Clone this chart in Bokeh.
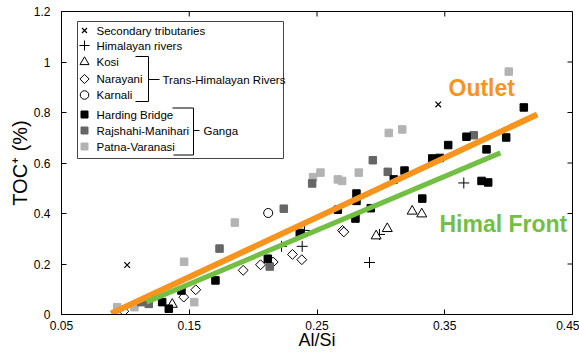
import numpy as np
from bokeh.plotting import figure
from bokeh.models import Range1d, FixedTicker, CustomJSTickFormatter, Label, Title
from bokeh.core.properties import value
from bokeh.embed import file_html
from bokeh.resources import INLINE

# ---------------- data ----------------
sec_x = [0.1014, 0.3449]
sec_y = [0.196, 0.832]

him_x = [0.2222, 0.2384, 0.2402, 0.2911, 0.2989, 0.3649]
him_y = [0.270, 0.270, 0.333, 0.206, 0.317, 0.521]

kosi_x = [0.1367, 0.2963, 0.3050, 0.3245, 0.3320]
kosi_y = [0.040, 0.311, 0.340, 0.409, 0.398]

nar_x = [0.0988, 0.1457, 0.1551, 0.1922, 0.2058, 0.2157, 0.2308, 0.2381, 0.2700, 0.2710]
nar_y = [0.013, 0.069, 0.098, 0.175, 0.197, 0.208, 0.238, 0.217, 0.333, 0.327]

kar_x = [0.2118]
kar_y = [0.402]

hb_x = [0.1288, 0.1340, 0.1439, 0.1705, 0.2115, 0.2365, 0.2663, 0.2809, 0.2809, 0.2801,
        0.2921, 0.3101, 0.3185, 0.3324, 0.3402, 0.3461, 0.3527, 0.3670, 0.3788, 0.3840,
        0.3827, 0.3981, 0.4119]
hb_y = [0.049, 0.023, 0.095, 0.135, 0.221, 0.323, 0.415, 0.479, 0.450, 0.380,
        0.421, 0.535, 0.570, 0.459, 0.618, 0.620, 0.671, 0.704, 0.529, 0.523,
        0.654, 0.701, 0.820]

rm_x = [0.1124, 0.1183, 0.1737, 0.2130, 0.2240, 0.2462, 0.2937, 0.3054, 0.3727]
rm_y = [0.049, 0.042, 0.261, 0.190, 0.419, 0.519, 0.611, 0.565, 0.710]

pv_x = [0.0936, 0.1071, 0.1460, 0.1539, 0.1857, 0.2469, 0.2527, 0.2663, 0.2697, 0.2827,
        0.3062, 0.3167, 0.4001]
pv_y = [0.029, 0.029, 0.209, 0.049, 0.364, 0.544, 0.562, 0.535, 0.529, 0.562,
        0.719, 0.733, 0.962]

outlet_x = [0.0889, 0.4224]
outlet_y = [0.004, 0.792]
himal_x = [0.1165, 0.3936]
himal_y = [0.049, 0.640]

legend_labels = ["Secondary tributaries", "Himalayan rivers", "Kosi", "Narayani", "Karnali",
                 "Harding Bridge", "Rajshahi-Manihari", "Patna-Varanasi"]
group_labels = ["Trans-Himalayan Rivers", "Ganga"]
line_labels = ["Outlet", "Himal Front"]
x_label = "Al/Si"
y_label = "TOC\u207a (%)"

x_ticks = [0.05, 0.15, 0.25, 0.35, 0.45]
x_tick_labels = ["0.05", "0.15", "0.25", "0.35", "0.45"]
y_ticks = [0, 0.2, 0.4, 0.6, 0.8, 1.0, 1.2]
y_tick_labels = ["0", "0.2", "0.4", "0.6", "0.8", "1", "1.2"]

# ---------------- styles ----------------
FONT = "Liberation Sans"
ORANGE = "#F7941D"
GREEN = "#72BF44"
BLACK = "#000000"
DARK = "#666666"
LIGHT = "#B3B3B3"

W, H = 579, 359
FL, FR, FT, FB = 61, 572, 11, 314   # frame edges in canvas pixels


def fmt(ticks, labels):
    return CustomJSTickFormatter(args=dict(t=ticks, l=labels), code="""
for (let i = 0; i < t.length; i++) { if (Math.abs(t[i] - tick) < 1e-9) return l[i]; }
return "";
""")


p = figure(width=W, height=H, x_range=Range1d(0.05, 0.45), y_range=Range1d(0, 1.2),
           output_backend="svg", toolbar_location=None,
           min_border_left=FL, min_border_right=W - FR, min_border_top=FT, min_border_bottom=H - FB)
p.xgrid.visible = False
p.ygrid.visible = False
p.outline_line_color = "black"
p.outline_line_alpha = 1
p.outline_line_width = 1
p.background_fill_color = "white"
p.border_fill_color = "white"

# pixel-space ranges for annotations (legend, labels)
p.extra_x_ranges = {"px": Range1d(FL, FR)}
p.extra_y_ranges = {"px": Range1d(FB, FT)}

for ax, ticks, labels in ((p.xaxis[0], x_ticks, x_tick_labels), (p.yaxis[0], y_ticks, y_tick_labels)):
    ax.ticker = FixedTicker(ticks=ticks)
    ax.formatter = fmt(ticks, labels)
    ax.major_tick_in = 5
    ax.major_tick_out = 0
    ax.minor_tick_in = 0
    ax.minor_tick_out = 0
    ax.axis_line_color = "black"
    ax.major_tick_line_color = "black"
    ax.major_label_text_font = FONT
    ax.major_label_text_font_size = "12px"
    ax.major_label_text_color = "black"
    ax.axis_label_text_font = FONT
    ax.axis_label_text_font_style = "normal"
    ax.axis_label_text_color = "black"

p.xaxis[0].axis_label = x_label
p.xaxis[0].axis_label_text_font_size = "18px"
p.xaxis[0].major_label_standoff = 6
p.xaxis[0].axis_label_standoff = -3
p.yaxis[0].major_label_standoff = 11

# y axis title (shifted slightly upwards, as in the reference)
p.add_layout(Title(text=y_label, align="center", offset=15, standoff=0, text_font=FONT,
                   text_font_size="20px", text_font_style="normal", text_color="black"), "left")

# ticks on the top and right frame edges (inward)
p.segment(x0=x_ticks, x1=x_ticks, y0=[FT] * len(x_ticks), y1=[FT + 5] * len(x_ticks),
          y_range_name="px", line_color="black", line_width=1)
p.segment(x0=[FR] * len(y_ticks), x1=[FR - 5] * len(y_ticks), y0=y_ticks, y1=y_ticks,
          x_range_name="px", line_color="black", line_width=1)

# ---------------- data marks ----------------
p.scatter(sec_x, sec_y, marker="x", size=8, line_color=BLACK, line_width=1.2)
p.scatter(him_x, him_y, marker="cross", size=11, line_color=BLACK, line_width=1)
p.scatter(kosi_x, kosi_y, marker="triangle", size=10, fill_color="white", line_color=BLACK, line_width=1)
p.scatter(nar_x, nar_y, marker="square", angle=np.pi / 4, size=7, fill_color="white", line_color=BLACK, line_width=1)
p.scatter(kar_x, kar_y, marker="circle", size=9, fill_color="white", line_color=BLACK, line_width=1)
p.scatter(pv_x, pv_y, marker="square", size=7.5, fill_color=LIGHT, line_color=LIGHT)
p.scatter(rm_x, rm_y, marker="square", size=7.5, fill_color=DARK, line_color=DARK)
p.scatter(hb_x, hb_y, marker="square", size=7.5, fill_color=BLACK, line_color=BLACK)

p.line(outlet_x, outlet_y, line_color=ORANGE, line_width=6)
p.line(himal_x, himal_y, line_color=GREEN, line_width=5)

# ---------------- legend (pixel space) ----------------
PX = dict(x_range_name="px", y_range_name="px")
p.quad(left=[77], right=[283], top=[21], bottom=[158], fill_color="white",
       line_color="#444444", line_width=1, **PX)

rows = [30, 45, 61.5, 78.5, 94.5, 114, 130, 146]
lx = [84] * len(rows)
p.scatter(lx[0:1], rows[0:1], marker="x", size=7, line_color=BLACK, line_width=1.2, **PX)
p.scatter(lx[1:2], rows[1:2], marker="cross", size=10, line_color=BLACK, **PX)
p.scatter(lx[2:3], rows[2:3], marker="triangle", size=9, fill_color="white", line_color=BLACK, **PX)
p.scatter(lx[3:4], rows[3:4], marker="square", angle=np.pi / 4, size=6.5, fill_color="white", line_color=BLACK, **PX)
p.scatter(lx[4:5], rows[4:5], marker="circle", size=8.5, fill_color="white", line_color=BLACK, **PX)
p.scatter(lx[5:6], rows[5:6], marker="square", size=7, fill_color=BLACK, line_color=BLACK, **PX)
p.scatter(lx[6:7], rows[6:7], marker="square", size=7, fill_color=DARK, line_color=DARK, **PX)
p.scatter(lx[7:8], rows[7:8], marker="square", size=7, fill_color=LIGHT, line_color=LIGHT, **PX)

for yy, txt in zip(rows, legend_labels):
    p.add_layout(Label(x=96, y=yy, text=txt, text_font=FONT, text_font_size="11.5px",
                       text_baseline="middle", text_align="left", text_color="black", **PX))

p.multi_line(xs=[[135, 148, 148, 135], [148, 159], [172, 193, 193, 173], [193, 199]],
             ys=[[56, 56, 101, 101], [79, 79], [107.5, 107.5, 154.5, 154.5], [130, 130]],
             line_color="black", line_width=1, **PX)
for xx, yy, txt in zip([162, 203], [79, 130], group_labels):
    p.add_layout(Label(x=xx, y=yy, text=txt, text_font=FONT, text_font_size="11.5px",
                       text_baseline="middle", text_align="left", text_color="black", **PX))

# line labels
p.add_layout(Label(x=448, y=87, text=line_labels[0], text_font=FONT, text_font_size="23px",
                   text_font_style="bold", text_color=ORANGE, text_baseline="alphabetic", **PX))
p.add_layout(Label(x=439, y=223, text=line_labels[1], text_font=FONT, text_font_size="23px",
                   text_font_style="bold", text_color=GREEN, text_baseline="alphabetic", **PX))

open("out.html", "w").write(file_html(p, INLINE))
